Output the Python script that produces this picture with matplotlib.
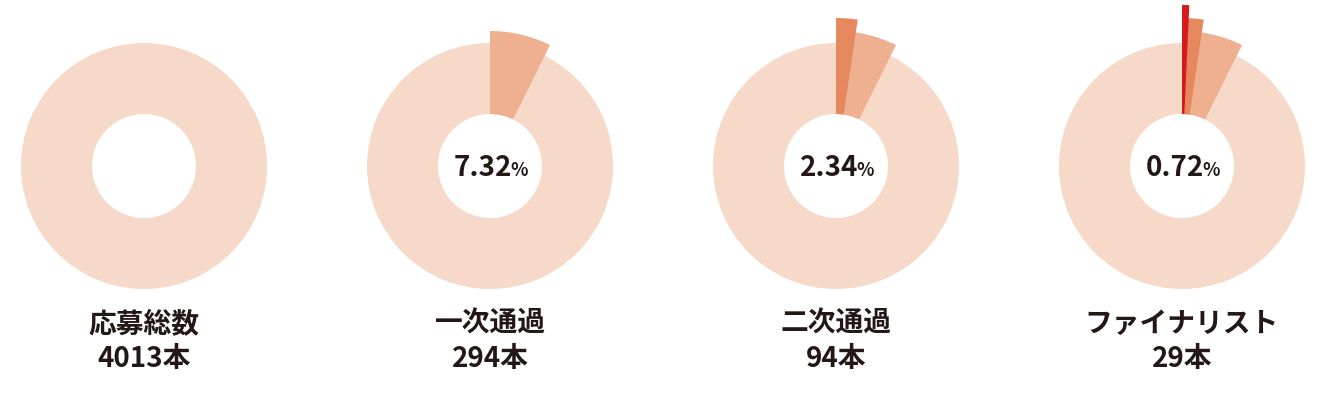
import matplotlib
matplotlib.use('Agg')
import matplotlib.pyplot as plt

plt.rcParams['font.family'] = ['Noto Sans CJK JP', 'DejaVu Sans']

stages = ['応募総数', '一次通過', '二次通過', 'ファイナリスト']
counts = [4013, 294, 94, 29]
pct_labels = ['', '7.32', '2.34', '0.72']

base_color = '#f6d9c9'
stage_colors = ['#eeb08f', '#e5885e', '#d71a1b']
text_color = '#231815'

fig = plt.figure(figsize=(13.3, 4.13), dpi=100)
ax = fig.add_axes([0, 0, 1, 1])

r_out, r_in = 123, 52
cy = 247
for i, name in enumerate(stages):
    cx = 144 + 346 * i
    ax.pie([1], radius=r_out, center=(cx, cy), colors=[base_color],
           wedgeprops=dict(width=r_out - r_in, linewidth=0))
    # wedges for each stage reached so far, stacked outward
    for k in range(1, i + 1):
        share = counts[k] / counts[0]
        r = r_out + 12 + 13 * (k - 1)
        ax.pie([share, 1 - share], radius=r, center=(cx, cy),
               startangle=90, counterclock=False,
               colors=[stage_colors[k - 1], 'none'],
               wedgeprops=dict(width=r - r_in, linewidth=0))
    if pct_labels[i]:
        ax.text(cx + 22, cy - 2, pct_labels[i], ha='right', va='center',
                fontsize=20, fontweight='bold', color=text_color)
        ax.text(cx + 20, cy - 5, '%', ha='left', va='center',
                fontsize=13, fontweight='bold', color=text_color)
    ax.text(cx, 89, name, ha='center', va='center', fontsize=20,
            fontweight='bold', color=text_color)
    ax.text(cx, 54, f'{counts[i]}本', ha='center', va='center', fontsize=20,
            fontweight='bold', color=text_color)

ax.set_xlim(0, 1330)
ax.set_ylim(0, 413)
ax.set_aspect('equal')
ax.axis('off')

fig.savefig('out.png', dpi=100)
